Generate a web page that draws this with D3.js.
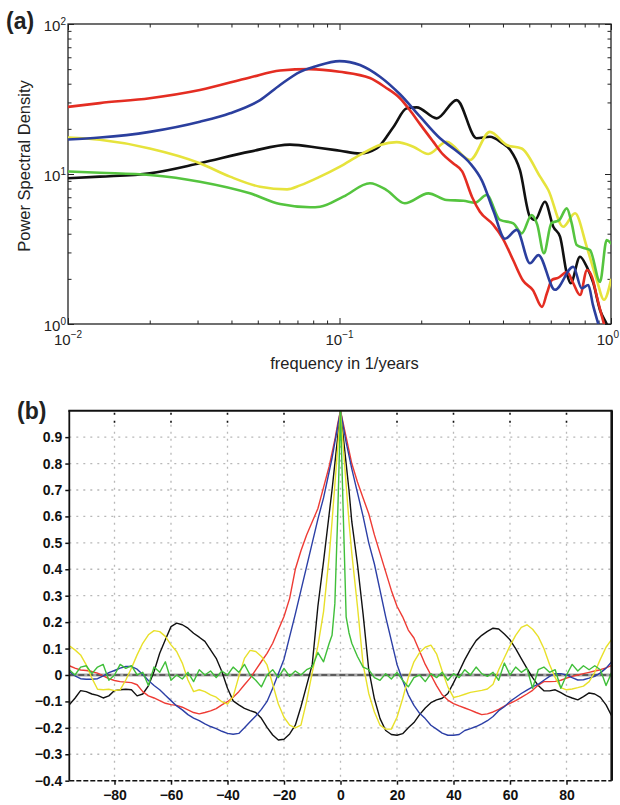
<!DOCTYPE html>
<html><head><meta charset="utf-8">
<script src="https://cdn.jsdelivr.net/npm/d3@7"></script>
<style>
body{margin:0;background:#fff}
svg{display:block}
text{font-family:"Liberation Sans",Arial,Helvetica,sans-serif}
</style>
</head><body>
<svg id="c" width="620" height="805"></svg>
<script>
// ---------- Panel (a): power spectral density, [frequency (1/yr), PSD] ----------
const psdBlack = [[0.01,9.36],[0.0131,9.6],[0.020,10.1],[0.0306,11.8],[0.0468,14.1],[0.0657,15.7],[0.0848,14.9],[0.1004,14.3],[0.119,13.7],[0.137,14.8],[0.158,20.6],[0.177,27.4],[0.1924,27.8],[0.228,23.5],[0.270,31.1],[0.320,17.3],[0.358,17.7],[0.395,16.2],[0.425,14.5],[0.462,10.6],[0.503,5.19],[0.525,4.94],[0.571,6.53],[0.613,4.45],[0.649,3.82],[0.687,2.18],[0.710,1.87],[0.769,2.81],[0.814,2.41],[0.861,1.87],[0.911,1.24],[0.964,1.0],[1.0,0.85]];
const psdRed = [[0.01,28],[0.0131,29.7],[0.020,32],[0.0306,36.3],[0.0468,44],[0.0604,49],[0.0778,50],[0.100,48],[0.1295,43.6],[0.147,38],[0.167,32],[0.182,26.5],[0.198,21.5],[0.221,16.5],[0.2405,13.5],[0.262,11.8],[0.283,10.4],[0.308,7.0],[0.329,5.6],[0.368,4.6],[0.400,3.7],[0.436,2.67],[0.474,1.95],[0.516,1.68],[0.557,1.30],[0.581,1.61],[0.606,1.97],[0.638,2.03],[0.689,2.22],[0.725,1.88],[0.769,1.56],[0.816,2.29],[0.851,2.06],[0.888,1.51],[0.934,1.06],[0.967,0.85]];
const psdBlue = [[0.01,17.0],[0.0131,17.5],[0.020,19.1],[0.0306,22.3],[0.0395,25.4],[0.0510,31.1],[0.0604,39.2],[0.0716,48],[0.0813,52],[0.100,56.6],[0.119,53.3],[0.141,44.5],[0.167,34],[0.198,24.1],[0.2345,17.3],[0.2663,14.5],[0.3025,11.8],[0.335,9.0],[0.370,5.6],[0.407,3.7],[0.4495,4.24],[0.503,2.54],[0.540,2.88],[0.622,1.69],[0.726,2.41],[0.780,1.73],[0.825,1.82],[0.858,1.34],[0.898,1.0],[0.93,0.8]];
const psdYellow = [[0.01,17.5],[0.0131,16.9],[0.020,14.8],[0.0306,11.8],[0.0395,9.6],[0.0510,8.22],[0.0641,7.9],[0.0716,8.4],[0.0848,9.6],[0.1004,11.2],[0.119,13.4],[0.141,15.6],[0.1624,16.3],[0.187,15.2],[0.2124,13.6],[0.248,16.4],[0.3025,12.4],[0.358,19.1],[0.413,15.6],[0.469,14.8],[0.548,9.6],[0.5875,7.82],[0.667,4.45],[0.737,5.47],[0.814,3.27],[0.886,1.97],[0.942,1.45],[1.0,1.97]];
const psdGreen = [[0.01,10.4],[0.0131,10.2],[0.020,9.85],[0.0306,8.89],[0.0468,7.43],[0.0604,6.3],[0.078,6.0],[0.0848,6.05],[0.1033,7.06],[0.1295,8.67],[0.149,7.82],[0.174,6.38],[0.2124,7.43],[0.248,6.71],[0.2858,6.64],[0.3156,6.44],[0.3484,7.24],[0.390,4.94],[0.4367,4.69],[0.469,4.02],[0.5103,5.33],[0.535,4.6],[0.566,2.96],[0.603,4.69],[0.645,4.94],[0.687,5.9],[0.7167,4.69],[0.7475,3.36],[0.80,3.2],[0.837,3.11],[0.911,1.91],[0.964,3.63],[1.0,3.45]];
const freqTickValues = [0.01, 0.1, 1];
const freqTickExps = ["\u22122", "\u22121", "0"];
const psdTickValues = [1, 10, 100];
const psdTickExps = ["0", "1", "2"];

// ---------- Panel (b): autocorrelation vs lag (years) ----------
const lags = [-96,-94,-92,-90,-88,-86,-84,-82,-80,-78,-76,-74,-72,-70,-68,-66,-64,-62,-60,-58,-56,-54,-52,-50,-48,-46,-44,-42,-40,-38,-36,-34,-32,-30,-28,-26,-24,-22,-20,-18,-16,-14,-12,-10,-8,-6,-4,
 -3,-2,-1,0,1,2,3,
 4,6,8,10,12,14,16,18,20,22,24,26,28,30,32,34,36,38,40,42,44,46,48,50,52,54,56,58,60,62,64,66,68,70,72,74,76,78,80,82,84,86,88,90,92,94,96];
const acfBlack = [-0.113,-0.088,-0.059,-0.063,-0.072,-0.077,-0.087,-0.079,-0.059,-0.056,
 -0.054,-0.056,-0.079,-0.072,-0.041,0.013,0.082,0.133,0.183,0.196,
 0.190,0.177,0.158,0.143,0.127,0.095,0.063,0.013,-0.050,-0.098,
 -0.113,-0.126,-0.135,-0.142,-0.164,-0.198,-0.227,-0.246,-0.243,-0.223,
 -0.19,-0.12,-0.04,0.04,0.26,0.43,0.61,
 0.70,0.80,0.90,1.0,0.90,0.80,0.70,
 0.58,0.42,0.23,0.02,-0.09,-0.165,-0.21,-0.225,-0.228,-0.222,
 -0.2,-0.18,-0.15,-0.125,-0.105,-0.094,-0.088,-0.07,-0.03,0.013,
 0.058,0.097,0.13,0.15,0.165,0.177,0.174,0.155,0.133,0.1,
 0.062,0.025,-0.01,-0.04,-0.06,-0.06,-0.056,-0.067,-0.079,-0.087,
 -0.094,-0.082,-0.068,-0.072,-0.085,-0.113,-0.155];
const acfRed = [0.035,0.026,0.019,0.017,0.013,0.007,-0.003,-0.014,-0.021,-0.025,
 -0.027,-0.029,-0.037,-0.063,-0.079,-0.087,-0.097,-0.107,-0.112,-0.115,
 -0.122,-0.132,-0.142,-0.147,-0.142,-0.136,-0.127,-0.113,-0.101,-0.084,
 -0.063,-0.037,-0.012,0.019,0.051,0.082,0.120,0.171,0.221,0.29,
 0.40,0.47,0.53,0.58,0.63,0.71,0.79,
 0.84,0.89,0.95,1.0,0.95,0.90,0.85,
 0.80,0.73,0.67,0.61,0.53,0.46,0.39,0.32,0.26,0.22,
 0.17,0.14,0.09,0.04,0.0,-0.04,-0.075,-0.095,-0.108,-0.117,
 -0.125,-0.133,-0.142,-0.15,-0.147,-0.14,-0.13,-0.118,-0.107,-0.097,
 -0.085,-0.072,-0.058,-0.038,-0.025,-0.025,-0.024,-0.02,-0.012,-0.005,
 0.0,0.005,0.01,0.015,0.02,0.027,0.036];
const acfBlue = [0.013,-0.003,-0.014,-0.016,-0.016,-0.014,-0.003,0.009,0.017,0.026,
 0.032,0.032,0.022,0.002,-0.021,-0.040,-0.056,-0.077,-0.097,-0.117,
 -0.132,-0.150,-0.163,-0.173,-0.185,-0.195,-0.203,-0.213,-0.221,-0.224,
 -0.221,-0.2,-0.177,-0.155,-0.13,-0.1,-0.05,0.005,0.06,0.145,
 0.23,0.32,0.41,0.50,0.59,0.67,0.77,
 0.82,0.88,0.94,1.0,0.94,0.88,0.83,
 0.78,0.69,0.60,0.50,0.42,0.32,0.22,0.13,0.04,-0.02,
 -0.075,-0.115,-0.145,-0.165,-0.19,-0.205,-0.22,-0.228,-0.228,-0.225,
 -0.21,-0.203,-0.195,-0.185,-0.173,-0.157,-0.135,-0.12,-0.1,-0.085,
 -0.07,-0.057,-0.045,-0.035,-0.02,-0.005,0.005,0.005,0.0,-0.01,
 -0.019,-0.018,-0.012,-0.005,0.008,0.026,0.05];
const acfYellow = [0.110,0.095,0.076,0.038,-0.012,-0.054,-0.056,-0.054,-0.059,-0.056,
 -0.019,0.026,0.076,0.120,0.152,0.168,0.164,0.146,0.114,0.089,
 0.045,-0.019,-0.063,-0.056,-0.063,-0.075,-0.084,-0.101,-0.110,-0.082,
 -0.006,0.063,0.093,0.089,0.07,0.038,-0.035,-0.11,-0.16,-0.19,
 -0.2,-0.19,-0.1,0.01,0.11,0.24,0.45,
 0.58,0.72,0.86,1.0,0.86,0.72,0.58,
 0.46,0.26,0.04,-0.07,-0.14,-0.19,-0.205,-0.205,-0.16,-0.09,
 -0.01,0.05,0.085,0.105,0.113,0.08,0.015,-0.045,-0.085,-0.08,
 -0.073,-0.066,-0.062,-0.058,-0.053,-0.035,0.02,0.065,0.11,0.15,
 0.18,0.19,0.173,0.145,0.1,0.04,-0.01,-0.048,-0.056,-0.053,
 -0.048,-0.042,-0.025,0.01,0.06,0.105,0.135];
const acfGreen = [0.02,0.0,0.03,0.035,0.005,0.03,0.04,-0.02,0.0,0.04,
 0.025,0.035,0.0,0.01,-0.04,0.03,0.01,0.05,-0.02,0.0,
 -0.015,0.01,-0.025,0.02,0.0,0.015,-0.01,0.015,0.0,0.03,
 0.01,0.04,0.0,-0.02,-0.045,0.0,0.02,-0.01,0.025,-0.005,
 0.015,0.0,0.02,0.03,0.085,0.05,0.12,
 0.15,0.27,0.6,1.0,0.6,0.22,0.16,
 0.12,0.07,0.03,0.02,-0.01,-0.02,0.005,-0.015,0.01,-0.02,
 -0.045,-0.01,0.0,-0.025,0.005,-0.01,0.01,-0.02,0.005,-0.01,
 0.02,0.0,0.03,0.005,-0.005,0.01,-0.02,0.045,0.0,0.03,
 0.01,0.025,-0.05,0.02,0.03,0.01,0.02,-0.05,0.0,0.04,
 0.015,0.035,0.02,0.035,0.02,-0.04,0.01];
const acfTicks = [-0.4,-0.3,-0.2,-0.1,0,0.1,0.2,0.3,0.4,0.5,0.6,0.7,0.8,0.9];
const lagTicks = [-80,-60,-40,-20,0,20,40,60,80];

// ---------- drawing ----------
const svg = d3.select("#c");
svg.append("rect").attr("width",620).attr("height",805).attr("fill","#fff");

// ===== Panel (a) =====
const A = {l:68, r:611, t:24, b:324};
const xA = d3.scaleLog().domain([0.01,1]).range([A.l,A.r]);
const yA = d3.scaleLog().domain([1,100]).range([A.b,A.t]);
const gA = svg.append("g");
svg.append("clipPath").attr("id","clipA").append("rect")
  .attr("x",A.l).attr("y",A.t).attr("width",A.r-A.l).attr("height",A.b-A.t);

const minorF = [], minorP = [];
[0.01,0.1].forEach(d => { for (let k=2;k<=9;k++) minorF.push(d*k); });
[1,10].forEach(d => { for (let k=2;k<=9;k++) minorP.push(d*k); });

function tickAxes(axisFn, scale, vals, size, transform) {
  gA.append("g").attr("transform",transform)
    .call(axisFn(scale).tickValues(vals).tickSize(size).tickFormat(""))
    .call(g => { g.select(".domain").remove(); g.selectAll("line").attr("stroke","#222").attr("stroke-width",1); });
}
[[freqTickValues,6],[minorF,3.5]].forEach(([v,s]) => {
  tickAxes(d3.axisBottom, xA, v, -s, `translate(0,${A.b})`);
  tickAxes(d3.axisTop, xA, v, -s, `translate(0,${A.t})`);
});
[[psdTickValues,6],[minorP,3.5]].forEach(([v,s]) => {
  tickAxes(d3.axisLeft, yA, v, -s, `translate(${A.l},0)`);
  tickAxes(d3.axisRight, yA, v, -s, `translate(${A.r},0)`);
});
gA.append("rect").attr("x",A.l).attr("y",A.t).attr("width",A.r-A.l).attr("height",A.b-A.t)
  .attr("fill","none").attr("stroke","#222").attr("stroke-width",1.3);

// tick labels with superscripts
psdTickValues.forEach((v,i) => {
  const t = gA.append("text").attr("x",A.l-2).attr("y",yA(v)+7).attr("text-anchor","end")
    .attr("font-size",15).attr("fill","#222");
  t.append("tspan").text("10");
  t.append("tspan").attr("font-size",10).attr("dy",-6).text(psdTickExps[i]);
});
freqTickValues.forEach((v,i) => {
  const last = i === freqTickValues.length - 1;
  const t = gA.append("text").attr("x",last ? 619 : xA(v)).attr("y",A.b+21)
    .attr("text-anchor",last ? "end" : "middle")
    .attr("font-size",15).attr("fill","#222");
  t.append("tspan").text("10");
  t.append("tspan").attr("font-size",10).attr("dy",-7).text(freqTickExps[i]);
});
gA.append("text").attr("transform",`translate(30,${(A.t+A.b)/2-8}) rotate(-90)`)
  .attr("text-anchor","middle").attr("font-size",16.5).attr("fill","#222").text("Power Spectral Density");
gA.append("text").attr("x",(A.l+A.r)/2+5).attr("y",369).attr("text-anchor","middle")
  .attr("font-size",16.5).attr("fill","#222").text("frequency in 1/years");
svg.append("text").attr("x",6).attr("y",29).attr("font-size",23).attr("font-weight","bold")
  .attr("fill","#222").text("(a)");

const lineA = d3.line().x(d => xA(d[0])).y(d => yA(d[1])).curve(d3.curveMonotoneX);
const seriesA = [[psdBlack,"#111111"],[psdYellow,"#e6e33c"],[psdGreen,"#55c43f"],[psdRed,"#e42d22"],[psdBlue,"#2b3f9e"]];
const linesA = gA.append("g").attr("clip-path","url(#clipA)");
seriesA.forEach(([d,c]) => linesA.append("path").attr("d",lineA(d)).attr("fill","none")
  .attr("stroke",c).attr("stroke-width",2.6).attr("stroke-linejoin","round").attr("stroke-linecap","round"));

// ===== Panel (b) =====
const B = {l:69.3, r:611.7, t:410.7, b:780.7};
const xB = d3.scaleLinear().domain([-96,96]).range([B.l,B.r]);
const yB = d3.scaleLinear().domain([-0.4,1.0]).range([B.b,B.t]);
const gB = svg.append("g");
svg.append("clipPath").attr("id","clipB").append("rect")
  .attr("x",B.l).attr("y",B.t).attr("width",B.r-B.l).attr("height",B.b-B.t);

// grid
gB.append("g").selectAll("line").data(acfTicks.filter(v => v > -0.35 && Math.abs(v) > 1e-9)).join("line")
  .attr("x1",B.l).attr("x2",B.r).attr("y1",d => yB(d)).attr("y2",d => yB(d))
  .attr("stroke","#b8b8b8").attr("stroke-width",1.3).attr("stroke-dasharray","2,5");
gB.append("g").selectAll("line").data(lagTicks).join("line")
  .attr("x1",d => xB(d)).attr("x2",d => xB(d)).attr("y1",B.t+14).attr("y2",B.b)
  .attr("stroke","#b8b8b8").attr("stroke-width",1.3).attr("stroke-dasharray","2,5");
gB.append("g").selectAll("line").data(lagTicks).join("line")
  .attr("x1",d => xB(d)).attr("x2",d => xB(d)).attr("y1",B.t+2).attr("y2",B.t+14)
  .attr("stroke","#111").attr("stroke-width",1.6).attr("stroke-dasharray","2,6");

// zero line
gB.append("line").attr("x1",B.l).attr("x2",B.r).attr("y1",yB(0)).attr("y2",yB(0))
  .attr("stroke","#a8a8a8").attr("stroke-width",3);
gB.append("line").attr("x1",B.l).attr("x2",B.r).attr("y1",yB(0)).attr("y2",yB(0))
  .attr("stroke","#111").attr("stroke-width",1.2).attr("stroke-dasharray","6,3");

// curves
const lineB = d3.line().x((d,i) => xB(lags[i])).y(d => yB(d));
const seriesB = [[acfBlack,"#111111"],[acfRed,"#ee3b34"],[acfBlue,"#2c3fa6"],[acfYellow,"#e8e02a"],[acfGreen,"#40bf3a"]];
const linesB = gB.append("g").attr("clip-path","url(#clipB)");
seriesB.forEach(([d,c]) => linesB.append("path").attr("d",lineB(d)).attr("fill","none")
  .attr("stroke",c).attr("stroke-width",1.4).attr("stroke-linejoin","round"));

// axes
const fmt = v => Math.abs(v) < 1e-9 ? "0" : d3.format(".1f")(v);
gB.append("g").attr("transform",`translate(${B.l},0)`)
  .call(d3.axisLeft(yB).tickValues(acfTicks).tickSize(4).tickPadding(3).tickFormat(fmt))
  .call(g => {
    g.select(".domain").remove();
    g.selectAll("line").attr("stroke","#111").attr("stroke-width",1.5);
    g.selectAll("text").attr("font-size",14).attr("font-weight","bold").attr("fill","#111")
      .attr("font-family","'Liberation Sans',Arial,sans-serif");
  });
gB.append("g").attr("transform",`translate(0,${B.b})`)
  .call(d3.axisBottom(xB).tickValues(lagTicks).tickSize(4).tickPadding(5).tickFormat(d3.format("d")))
  .call(g => {
    g.select(".domain").remove();
    g.selectAll("line").attr("stroke","#111").attr("stroke-width",1.5);
    g.selectAll("text").attr("font-size",14).attr("font-weight","bold").attr("fill","#111")
      .attr("font-family","'Liberation Sans',Arial,sans-serif");
  });
// frame
gB.append("line").attr("x1",B.l).attr("x2",B.l).attr("y1",B.t).attr("y2",B.b).attr("stroke","#111").attr("stroke-width",1.8);
gB.append("line").attr("x1",B.l-1).attr("x2",B.r+1).attr("y1",B.t).attr("y2",B.t).attr("stroke","#111").attr("stroke-width",2);
gB.append("line").attr("x1",B.r).attr("x2",B.r).attr("y1",B.t).attr("y2",B.b).attr("stroke","#111").attr("stroke-width",2.6);
gB.append("line").attr("x1",B.l).attr("x2",B.r).attr("y1",B.b).attr("y2",B.b).attr("stroke","#111").attr("stroke-width",1.6).attr("stroke-dasharray","5,2");

svg.append("text").attr("x",17).attr("y",419).attr("font-size",23).attr("font-weight","bold")
  .attr("fill","#222").text("(b)");
</script>
</body></html>
